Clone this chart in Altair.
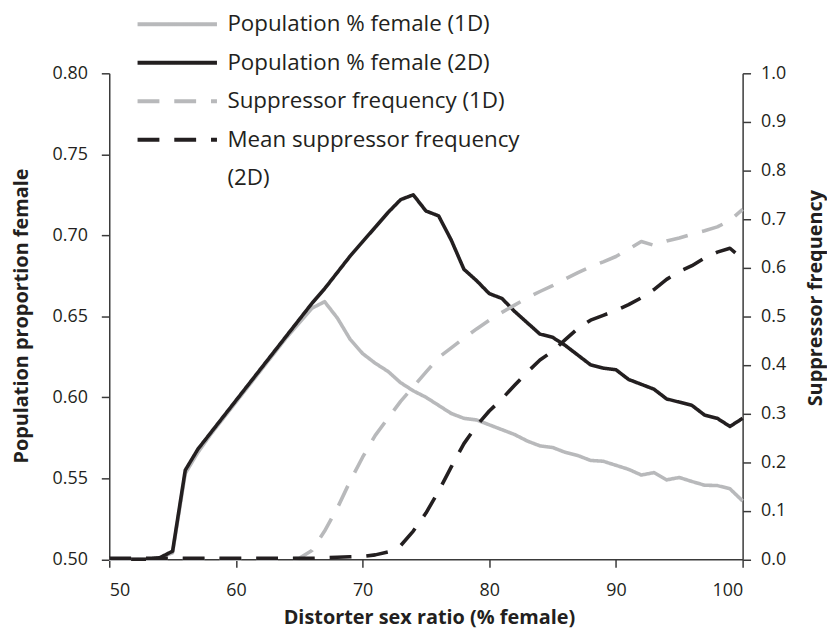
import altair as alt
import pandas as pd

# ---------------- data ----------------
x_vals = list(range(50, 101))

pop_1d = [0.500, 0.500, 0.500, 0.500, 0.501, 0.504, 0.553, 0.566, 0.577, 0.587,
          0.597, 0.607, 0.617, 0.627, 0.637, 0.646, 0.655, 0.659, 0.649, 0.636,
          0.627, 0.621, 0.616, 0.609, 0.604, 0.600, 0.595, 0.590, 0.587, 0.586,
          0.583, 0.580, 0.577, 0.573, 0.570, 0.569, 0.566, 0.564, 0.561, 0.5605,
          0.558, 0.5555, 0.552, 0.5535, 0.549, 0.5505, 0.548, 0.5457, 0.5455, 0.5435,
          0.536]

pop_2d = [0.500, 0.500, 0.500, 0.500, 0.501, 0.505, 0.555, 0.568, 0.578, 0.588,
          0.598, 0.608, 0.618, 0.628, 0.638, 0.648, 0.658, 0.667, 0.677, 0.687,
          0.696, 0.705, 0.714, 0.722, 0.725, 0.715, 0.712, 0.697, 0.679, 0.672,
          0.664, 0.661, 0.653, 0.646, 0.639, 0.637, 0.632, 0.626, 0.620, 0.618,
          0.617, 0.611, 0.608, 0.605, 0.599, 0.597, 0.595, 0.589, 0.587, 0.582,
          0.587]

sup_1d = [0.0, 0.0, 0.0, 0.0, 0.0, 0.0, 0.0, 0.0, 0.0, 0.0,
          0.0, 0.0, 0.0, 0.0, 0.0, 0.002, 0.018, 0.058, 0.105, 0.160,
          0.210, 0.255, 0.290, 0.325, 0.355, 0.385, 0.415, 0.435, 0.455, 0.474,
          0.492, 0.508, 0.523, 0.538, 0.551, 0.563, 0.577, 0.590, 0.602, 0.612,
          0.623, 0.638, 0.654, 0.646, 0.655, 0.661, 0.669, 0.676, 0.684, 0.697,
          0.720]

sup_2d = [0.002, 0.002, 0.002, 0.002, 0.002, 0.002, 0.002, 0.002, 0.002, 0.002,
          0.002, 0.002, 0.002, 0.002, 0.002, 0.002, 0.002, 0.003, 0.004, 0.005,
          0.006, 0.009, 0.015, 0.028, 0.058, 0.095, 0.140, 0.190, 0.238, 0.275,
          0.305, 0.330, 0.358, 0.385, 0.410, 0.428, 0.452, 0.475, 0.492, 0.502,
          0.512, 0.524, 0.538, 0.555, 0.576, 0.592, 0.604, 0.620, 0.632, 0.640,
          0.618]

series_names = ["Population % female (1D)", "Population % female (2D)",
                "Suppressor frequency (1D)", "Mean suppressor frequency (2D)"]
# legend entries: the last series name wraps onto a second legend line "(2D)"
legend_domain = series_names + ["(2D)"]
legend_colors = ["#b8b9bb", "#231f20", "#b8b9bb", "#231f20", "transparent"]
legend_dashes = [[1, 0], [1, 0], [22, 15], [22, 15], [1, 0]]

left_ticks = [0.50, 0.55, 0.60, 0.65, 0.70, 0.75, 0.80]
right_ticks = [0.0, 0.1, 0.2, 0.3, 0.4, 0.5, 0.6, 0.7, 0.8, 0.9, 1.0]
x_ticks = [50, 60, 70, 80, 90, 100]

all_series = [pop_1d, pop_2d, sup_1d, sup_2d]
frames = []
for name, vals in zip(series_names, all_series):
    frames.append(pd.DataFrame({"x": x_vals, "value": vals, "series": name}))
df = pd.concat(frames, ignore_index=True)

FONT = "Open Sans"
AX = "#3a3a3a"
TXT = "#231f20"

color_scale = alt.Scale(domain=legend_domain, range=legend_colors)
dash_scale = alt.Scale(domain=legend_domain, range=legend_dashes)

legend = alt.Legend(
    orient="none", legendX=53, legendY=-65, title=None,
    symbolType="M-3,0L3,0", symbolSize=711, symbolStrokeWidth=4,
    symbolFillColor="transparent",
    labelFont=FONT, labelFontSize=22.5, labelColor=TXT, labelOffset=35,
    rowPadding=11.8, labelLimit=450,
    labelExpr="datum.label == 'Mean suppressor frequency (2D)' ? 'Mean suppressor frequency' : datum.label",
)

x_axis = alt.Axis(values=x_ticks, grid=False, tickSize=8, tickWidth=1.5, tickColor=AX,
                  domainColor=AX, domainWidth=1.5, labelFont=FONT, labelFontSize=18,
                  labelColor=TXT, labelPadding=15, title="Distorter sex ratio (% female)",
                  titleFont=FONT, titleFontSize=20, titleFontWeight="bold", titleColor=TXT,
                  titleX=322, titleY=59, titleBaseline="middle")

left_axis = alt.Axis(orient="left", values=left_ticks, format=".2f", grid=False,
                     tickSize=8, tickWidth=1.5, tickColor=AX, domainColor=AX, domainWidth=1.5,
                     labelFont=FONT, labelFontSize=18, labelColor=TXT, labelPadding=14,
                     title="Population proportion female", titleFont=FONT, titleFontSize=20,
                     titleFontWeight="bold", titleColor=TXT, titleAngle=270,
                     titleX=-88, titleY=244, titleBaseline="middle", titleAlign="center")

right_axis = alt.Axis(orient="right", values=right_ticks, format=".1f", grid=False,
                      tickSize=8, tickWidth=1.5, tickColor=AX, domainColor=AX, domainWidth=1.5,
                      labelFont=FONT, labelFontSize=18, labelColor=TXT, labelPadding=10,
                      title="Suppressor frequency", titleFont=FONT, titleFontSize=20,
                      titleFontWeight="bold", titleColor=TXT, titleAngle=270,
                      titleX=73, titleY=226, titleBaseline="middle", titleAlign="center")


def line(name, y_domain, y_axis):
    return alt.Chart(df).transform_filter(alt.datum.series == name).mark_line(
        strokeWidth=3.6, strokeCap="butt", strokeJoin="round", clip=False
    ).encode(
        x=alt.X("x:Q", scale=alt.Scale(domain=[50, 100], nice=False, zero=False), axis=x_axis),
        y=alt.Y("value:Q", scale=alt.Scale(domain=y_domain, nice=False, zero=False), axis=y_axis),
        color=alt.Color("series:N", scale=color_scale, legend=legend),
        strokeDash=alt.StrokeDash("series:N", scale=dash_scale, legend=legend),
    )


left_layer = alt.layer(line(series_names[0], [0.5, 0.8], left_axis),
                       line(series_names[1], [0.5, 0.8], left_axis))
right_layer = alt.layer(line(series_names[2], [0.0, 1.0], right_axis),
                        line(series_names[3], [0.0, 1.0], right_axis))

chart = alt.layer(left_layer, right_layer).resolve_scale(y="independent").properties(
    width=638, height=489.5,
    autosize=alt.AutoSizeParams(type="none"),
    padding={"left": 102, "top": 63.5, "right": 85, "bottom": 73},
    background="white",
).configure_view(stroke=None)

chart.save("out.html", embed_options={"renderer": "svg", "actions": False})
